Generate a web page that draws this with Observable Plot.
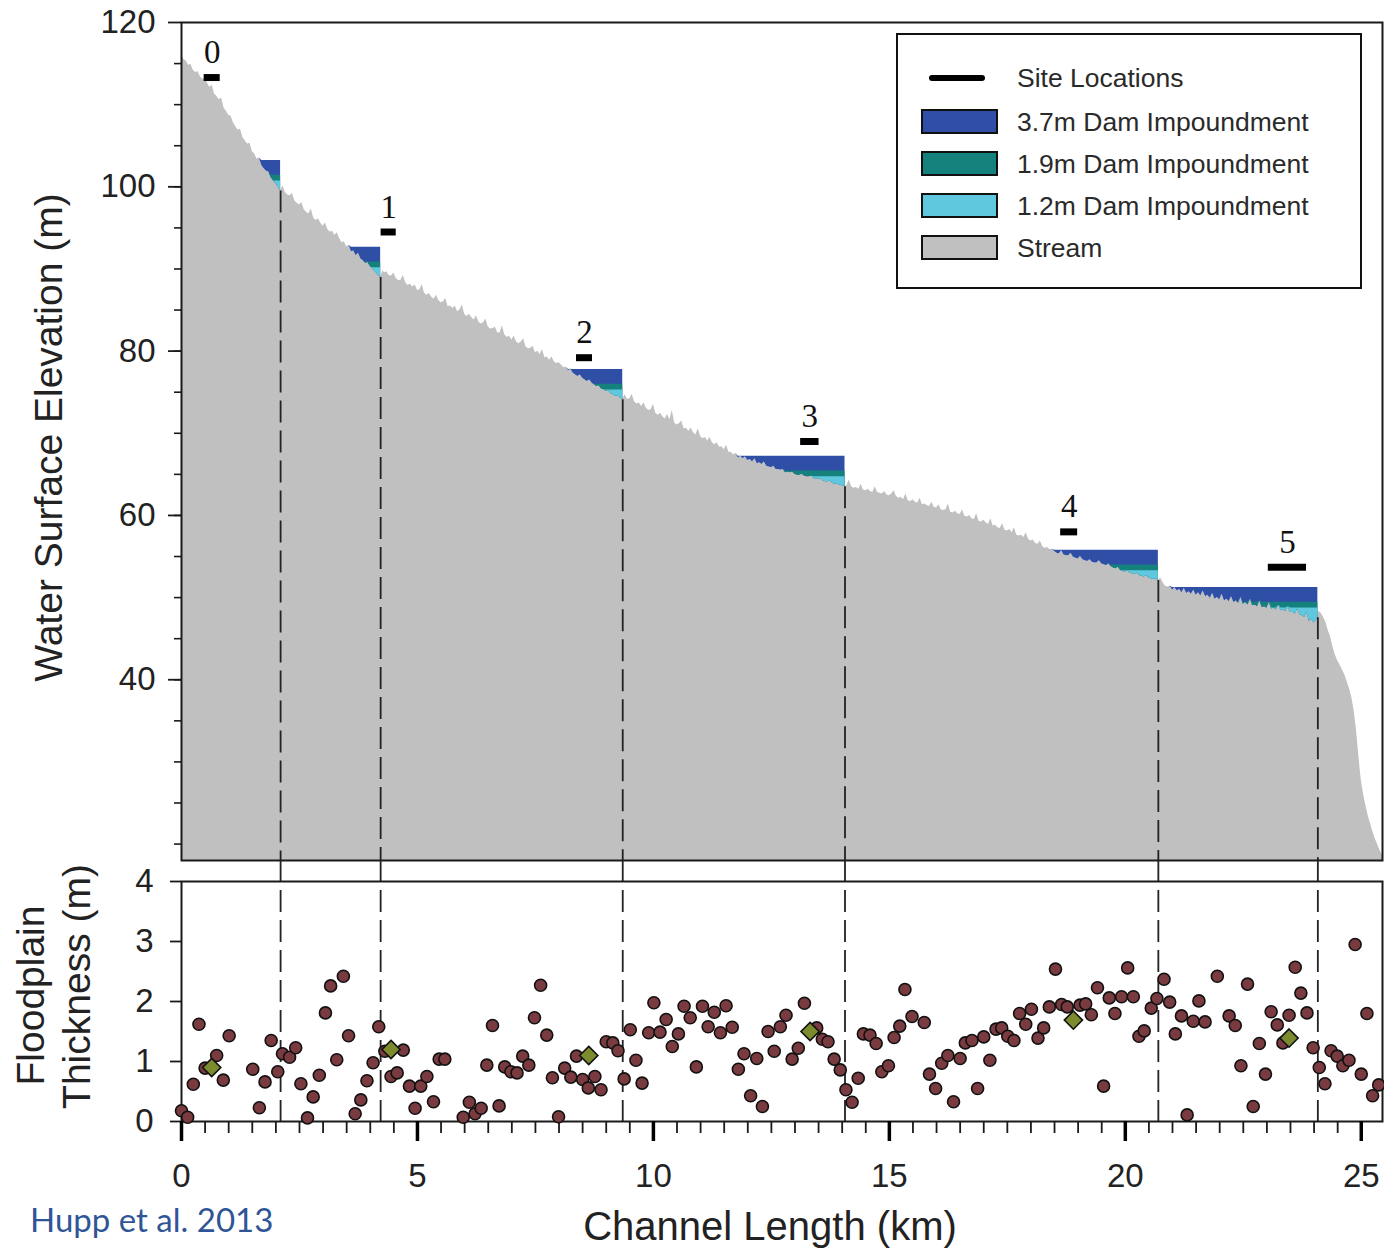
<!DOCTYPE html>
<html>
<head>
<meta charset="utf-8">
<script src="https://cdn.jsdelivr.net/npm/d3@7"></script>
<script src="https://cdn.jsdelivr.net/npm/@observablehq/plot@0.6"></script>
<style>
  html, body { margin: 0; padding: 0; background: #fff; }
  #wrap { position: relative; width: 1384px; height: 1250px; overflow: hidden; font-family: "Liberation Sans", Arial, sans-serif; }
  #topPanel, #bottomPanel { position: absolute; left: 0; }
  #topPanel { top: 0; }
  #bottomPanel { top: 860px; }
  #legend { position: absolute; left: 896px; top: 33px; width: 462px; height: 252px; border: 2.5px solid #111; background: #fff; }
  #legend .sw { position: absolute; left: 23px; width: 73px; height: 21px; border: 2px solid #111; }
  #legend .ln { position: absolute; left: 31px; width: 56px; height: 6px; border-radius: 3px; background: #000; }
  #legend .lb { position: absolute; left: 119px; font-size: 26.5px; color: #2a2a2a; line-height: 30px; white-space: nowrap; }
  #credit { position: absolute; left: 30px; top: 1199px; font-family: Lato, "Open Sans", sans-serif; font-size: 33px; color: #2f5597; }
</style>
</head>
<body>
<div id="wrap">
  <div id="topPanel"></div>
  <div id="bottomPanel"></div>
  <div id="legend"></div>
  <div id="credit">Hupp et al. 2013</div>
</div>
<script>
// ---------- axis settings ----------
const kmDomain = [0, 25.45];
const elevDomain = [18, 120];
const thickDomain = [0, 4];
const elevMajorTicks = [40, 60, 80, 100, 120];
const elevMinorTicks = [20, 25, 30, 35, 40, 45, 50, 55, 60, 65, 70, 75, 80, 85, 90, 95, 100, 105, 110, 115];
const thickTicks = [0, 1, 2, 3, 4];
const kmMajorTicks = [0, 5, 10, 15, 20, 25];
const kmMinorTicks = [0.5, 1, 1.5, 2, 2.5, 3, 3.5, 4, 4.5, 5.5, 6, 6.5, 7, 7.5, 8, 8.5, 9, 9.5,
  10.5, 11, 11.5, 12, 12.5, 13, 13.5, 14, 14.5, 15.5, 16, 16.5, 17, 17.5, 18, 18.5, 19, 19.5,
  20.5, 21, 21.5, 22, 22.5, 23, 23.5, 24, 24.5, 25];

// ---------- stream water-surface profile [km, elevation m] ----------
const streamProfile = [
  [0.0,116.2],[0.05,115.5],[0.1,115.3],[0.15,114.8],[0.2,114.9],[0.25,114.2],[0.3,113.9],[0.35,114.0],[0.4,113.4],[0.45,113.1],
  [0.5,113.2],[0.55,112.6],[0.6,112.1],[0.65,112.4],[0.7,111.3],[0.75,111.0],[0.8,110.6],[0.85,110.8],[0.9,109.6],[0.95,109.2],
  [1.0,108.7],[1.05,108.6],[1.1,107.8],[1.15,107.3],[1.2,106.9],[1.25,107.0],[1.3,106.0],[1.35,105.6],[1.4,105.2],[1.45,105.3],
  [1.5,104.3],[1.55,104.0],[1.6,103.4],[1.65,103.5],[1.7,102.6],[1.75,102.2],[1.8,101.9],[1.85,101.8],[1.9,101.1],[1.95,100.7],
  [2.0,100.4],[2.05,100.0],[2.1,99.5],[2.15,100.1],[2.2,99.3],[2.25,99.0],[2.3,98.9],[2.35,99.2],[2.4,98.3],[2.45,98.0],
  [2.5,97.8],[2.55,98.1],[2.6,97.2],[2.65,96.9],[2.7,96.7],[2.75,97.3],[2.8,96.2],[2.85,95.9],[2.9,96.1],[2.95,95.6],
  [3.0,95.2],[3.05,95.6],[3.1,94.8],[3.15,94.5],[3.2,94.6],[3.25,94.1],[3.3,94.4],[3.35,93.7],[3.4,93.2],[3.45,93.3],
  [3.5,92.6],[3.55,92.9],[3.6,92.1],[3.65,92.2],[3.7,91.6],[3.75,91.9],[3.8,91.2],[3.85,91.0],[3.9,90.7],[3.95,90.8],
  [4.0,90.3],[4.05,90.0],[4.1,89.7],[4.15,89.4],[4.22,88.95],[4.27,89.8],[4.3,89.5],[4.35,89.65],[4.4,89.2],[4.45,89.15],
  [4.5,89.5],[4.55,88.85],[4.6,88.6],[4.65,88.64],[4.7,89.2],[4.75,88.34],[4.8,88.0],[4.85,88.14],[4.9,87.8],[4.95,88.04],
  [5.0,87.4],[5.05,87.43],[5.1,88.1],[5.15,87.03],[5.2,86.8],[5.25,87.0],[5.3,86.6],[5.35,86.3],[5.4,86.8],[5.45,86.2],
  [5.5,85.9],[5.55,86.0],[5.6,86.4],[5.65,85.4],[5.7,85.5],[5.75,85.2],[5.8,85.5],[5.85,84.8],[5.9,85.0],[5.95,85.6],
  [6.0,84.5],[6.05,84.2],[6.1,84.5],[6.15,84.1],[6.2,83.8],[6.25,84.3],[6.3,83.55],[6.35,83.3],[6.4,83.45],[6.45,83.9],
  [6.5,82.95],[6.55,82.7],[6.6,82.75],[6.65,82.9],[6.7,82.25],[6.75,82.2],[6.8,83.1],[6.85,82.0],[6.9,81.65],[6.95,81.8],
  [7.0,81.35],[7.05,81.8],[7.1,81.1],[7.15,80.9],[7.2,81.1],[7.25,81.5],[7.3,80.5],[7.35,80.3],[7.4,80.35],[7.45,80.6],
  [7.5,79.8],[7.55,80.0],[7.6,79.6],[7.65,80.2],[7.7,79.2],[7.75,79.3],[7.8,78.9],[7.85,79.3],[7.9,78.7],[7.95,78.5],
  [8.0,78.6],[8.05,78.3],[8.1,78.0],[8.15,78.05],[8.2,77.6],[8.25,77.8],[8.3,77.3],[8.35,77.1],[8.4,76.9],[8.45,77.1],
  [8.5,76.7],[8.55,76.5],[8.6,76.3],[8.65,76.5],[8.7,76.1],[8.75,75.9],[8.8,75.7],[8.85,75.8],[8.9,75.4],[8.95,75.3],
  [9.0,75.1],[9.05,75.2],[9.1,74.8],[9.15,74.7],[9.2,74.5],[9.25,74.6],[9.3,74.3],[9.35,74.07],[9.4,74.7],[9.45,74.15],
  [9.5,74.2],[9.55,74.75],[9.6,73.8],[9.65,73.55],[9.7,73.7],[9.75,73.25],[9.8,73.7],[9.85,73.05],[9.9,72.8],[9.95,72.85],
  [10.0,73.5],[10.05,72.45],[10.1,72.2],[10.15,72.45],[10.2,72.0],[10.25,71.75],[10.3,72.3],[10.35,71.65],[10.4,72.8],[10.45,71.25],
  [10.5,71.0],[10.55,71.15],[10.6,71.5],[10.65,70.55],[10.7,70.6],[10.75,70.25],[10.8,70.6],[10.85,70.05],[10.9,69.8],[10.95,70.55],
  [11.0,69.6],[11.05,69.35],[11.1,69.5],[11.15,69.05],[11.2,69.5],[11.25,68.85],[11.3,68.6],[11.35,68.85],[11.4,68.3],[11.45,68.35],
  [11.5,68.0],[11.55,68.55],[11.6,67.7],[11.65,67.65],[11.7,67.4],[11.75,67.55],[11.8,67.0],[11.85,67.2],[11.9,66.9],[11.95,67.1],
  [12.0,66.7],[12.05,66.8],[12.1,66.5],[12.15,66.9],[12.2,66.3],[12.25,66.4],[12.3,66.2],[12.35,66.5],[12.4,66.0],[12.45,65.9],
  [12.5,65.8],[12.55,66.0],[12.6,65.6],[12.65,65.6],[12.7,65.5],[12.75,65.6],[12.8,65.2],[12.85,65.3],[12.9,65.2],[12.95,65.3],
  [13.0,65.0],[13.05,64.9],[13.1,64.9],[13.15,65.0],[13.2,64.8],[13.25,64.7],[13.3,64.7],[13.35,64.8],[13.4,64.5],[13.45,64.4],
  [13.5,64.4],[13.55,64.5],[13.6,64.2],[13.65,64.1],[13.7,64.1],[13.75,64.2],[13.8,63.9],[13.85,63.8],[13.9,63.8],[13.95,63.7],
  [14.0,63.6],[14.06,63.5],[14.1,63.6],[14.15,64.3],[14.2,63.5],[14.25,63.3],[14.3,63.4],[14.35,63.2],[14.4,63.8],[14.45,63.1],
  [14.5,63.0],[14.55,63.2],[14.6,62.9],[14.65,62.8],[14.7,63.5],[14.75,62.8],[14.8,62.7],[14.85,62.6],[14.9,62.9],[14.95,62.5],
  [15.0,62.4],[15.05,62.6],[15.1,63.0],[15.15,62.3],[15.2,62.1],[15.25,62.2],[15.3,61.9],[15.35,62.6],[15.4,61.8],[15.45,61.7],
  [15.5,61.9],[15.55,61.6],[15.6,61.5],[15.65,62.1],[15.7,61.3],[15.75,61.4],[15.8,61.2],[15.85,61.1],[15.9,61.6],[15.95,61.0],
  [16.0,60.9],[16.05,61.3],[16.1,60.7],[16.15,60.6],[16.2,60.7],[16.25,61.4],[16.3,60.4],[16.35,60.3],[16.4,60.5],[16.45,60.2],
  [16.5,60.1],[16.55,60.7],[16.6,59.9],[16.65,59.8],[16.7,60.0],[16.75,59.6],[16.8,59.5],[16.85,60.2],[16.9,59.3],[16.95,59.2],
  [17.0,59.4],[17.05,59.1],[17.1,58.9],[17.15,59.6],[17.2,58.7],[17.25,58.8],[17.3,58.5],[17.35,58.4],[17.4,59.0],[17.45,58.2],
  [17.5,58.1],[17.55,58.3],[17.6,57.9],[17.65,58.5],[17.7,57.6],[17.75,57.5],[17.8,57.6],[17.85,57.3],[17.9,57.9],[17.95,57.1],
  [18.0,56.9],[18.05,57.0],[18.1,56.6],[18.15,56.5],[18.2,56.9],[18.25,56.2],[18.3,56.0],[18.35,56.1],[18.4,55.7],[18.45,55.9],
  [18.5,55.6],[18.55,55.4],[18.6,55.3],[18.65,55.7],[18.7,55.2],[18.75,55.1],[18.8,55.1],[18.85,55.4],[18.9,54.9],[18.95,54.8],
  [19.0,54.7],[19.05,55.0],[19.1,54.6],[19.15,54.5],[19.2,54.4],[19.25,54.6],[19.3,54.3],[19.35,54.2],[19.4,54.2],[19.45,54.5],
  [19.5,54.1],[19.55,54.0],[19.6,53.9],[19.65,54.1],[19.7,53.8],[19.75,53.6],[19.8,53.5],[19.85,53.7],[19.9,53.3],[19.95,53.2],
  [20.0,53.1],[20.05,53.3],[20.1,53.0],[20.15,52.9],[20.2,52.8],[20.25,53.0],[20.3,52.7],[20.35,52.6],[20.4,52.5],[20.45,52.7],
  [20.5,52.4],[20.55,52.3],[20.6,52.2],[20.65,52.3],[20.7,52.07],[20.75,52.4],[20.8,51.8],[20.85,51.4],[20.9,51.2],[20.95,51.4],
  [21.0,50.9],[21.05,51.2],[21.1,50.8],[21.15,51.0],[21.2,50.6],[21.25,51.1],[21.3,50.5],[21.35,50.7],[21.4,50.4],[21.45,50.9],
  [21.5,50.3],[21.55,50.6],[21.6,50.2],[21.65,50.8],[21.7,50.1],[21.75,50.3],[21.8,49.9],[21.85,50.5],[21.9,49.8],[21.95,50.0],
  [22.0,49.7],[22.05,50.4],[22.1,49.6],[22.15,49.8],[22.2,49.5],[22.25,50.1],[22.3,49.4],[22.35,49.6],[22.4,49.3],[22.45,50.0],
  [22.5,49.2],[22.55,49.4],[22.6,49.1],[22.65,49.8],[22.7,49.0],[22.75,49.1],[22.8,48.9],[22.85,49.6],[22.9,48.8],[22.95,48.9],
  [23.0,48.7],[23.05,49.4],[23.1,48.6],[23.15,48.7],[23.2,48.5],[23.25,49.1],[23.3,48.4],[23.35,48.5],[23.4,48.3],[23.45,48.9],
  [23.5,48.2],[23.55,48.2],[23.6,48.0],[23.65,48.6],[23.7,47.9],[23.75,47.8],[23.8,47.6],[23.85,48.2],[23.9,47.1],[23.95,47.4],
  [24.0,46.9],[24.05,47.3],[24.08,47.54],[24.1,48.3],[24.15,48.1],[24.2,47.6],[24.25,47.0],[24.3,46.0],[24.35,45.2],[24.4,44.0],
  [24.45,43.0],[24.5,42.3],[24.55,41.8],[24.6,41.2],[24.65,40.6],[24.7,39.8],[24.75,38.9],[24.8,37.8],[24.85,36.2],[24.9,33.8],
  [24.95,30.6],[25.0,27.8],[25.05,26.0],[25.1,24.6],[25.15,23.4],[25.2,22.4],[25.25,21.4],[25.3,20.6],[25.35,19.9],[25.4,19.2],[25.45,18.6]
];

// ---------- dams (position km, stream elevation at dam m) ----------
const damKm = [2.1, 4.22, 9.35, 14.06, 20.7, 24.08];
const damBase = [99.5, 88.95, 74.07, 63.5, 52.07, 47.54];
const damHeights = [3.7, 1.9, 1.2];
const damLabels = ["3.7m Dam Impoundment", "1.9m Dam Impoundment", "1.2m Dam Impoundment"];
const damColors = ["#2f4fa6", "#15817d", "#5fc8de"];
const streamColor = "#c0c0c0";

// ---------- study sites ----------
const siteLabels = ["0", "1", "2", "3", "4", "5"];
const siteKmStart = [0.48, 4.23, 8.37, 13.12, 18.63, 23.03];
const siteKmEnd = [0.82, 4.55, 8.71, 13.51, 18.99, 23.84];
const siteElev = [113.3, 94.5, 79.2, 69.0, 58.0, 53.7];
const siteThickKm = [0.64, 4.44, 8.63, 13.32, 18.9, 23.47];
const siteThickness = [0.90, 1.20, 1.10, 1.50, 1.69, 1.39];

// ---------- floodplain thickness samples [km, m] ----------
const floodplainPoints = [
  [0.00,0.18],[0.13,0.07],[0.25,0.62],[0.37,1.62],[0.50,0.89],[0.745,1.10],[0.886,0.69],[1.01,1.43],[1.51,0.87],[1.65,0.23],
  [1.77,0.66],[1.90,1.35],[2.04,0.83],[2.14,1.13],[2.29,1.07],[2.42,1.23],[2.53,0.63],[2.67,0.06],[2.79,0.41],[2.92,0.77],
  [3.05,1.81],[3.16,2.26],[3.29,1.03],[3.43,2.42],[3.54,1.43],[3.68,0.13],[3.80,0.36],[3.93,0.68],[4.06,0.98],[4.18,1.58],
  [4.31,1.17],[4.44,0.75],[4.57,0.81],[4.70,1.19],[4.83,0.59],[4.95,0.22],[5.07,0.59],[5.20,0.75],[5.34,0.33],[5.46,1.04],
  [5.58,1.04],[5.97,0.07],[6.10,0.32],[6.22,0.13],[6.35,0.22],[6.47,0.94],[6.59,1.60],[6.73,0.26],[6.85,0.91],[6.98,0.83],
  [7.11,0.81],[7.23,1.09],[7.36,0.94],[7.48,1.73],[7.61,2.27],[7.74,1.44],[7.86,0.73],[7.99,0.08],[8.12,0.89],[8.25,0.74],
  [8.37,1.09],[8.50,0.70],[8.62,0.56],[8.76,0.75],[8.89,0.53],[9.00,1.33],[9.14,1.31],[9.25,1.18],[9.38,0.71],[9.51,1.53],
  [9.63,1.02],[9.76,0.64],[9.90,1.48],[10.01,1.98],[10.14,1.49],[10.27,1.70],[10.40,1.25],[10.53,1.46],[10.65,1.92],[10.78,1.73],
  [10.91,0.91],[11.04,1.92],[11.16,1.58],[11.29,1.82],[11.42,1.48],[11.54,1.93],[11.67,1.57],[11.80,0.87],[11.92,1.13],[12.06,0.43],
  [12.19,1.05],[12.31,0.25],[12.43,1.50],[12.56,1.17],[12.69,1.58],[12.81,1.77],[12.94,1.04],[13.07,1.22],[13.20,1.97],[13.46,1.56],
  [13.58,1.37],[13.70,1.33],[13.83,1.04],[13.96,0.86],[14.08,0.53],[14.21,0.32],[14.34,0.72],[14.45,1.46],[14.59,1.44],[14.72,1.30],
  [14.84,0.83],[14.98,0.93],[15.10,1.40],[15.22,1.59],[15.33,2.20],[15.48,1.75],[15.74,1.65],[15.85,0.79],[15.98,0.55],[16.11,0.97],
  [16.24,1.10],[16.36,0.33],[16.50,1.05],[16.61,1.31],[16.75,1.35],[16.87,0.55],[17.00,1.41],[17.13,1.02],[17.26,1.54],[17.38,1.56],
  [17.51,1.42],[17.64,1.35],[17.76,1.80],[17.89,1.62],[18.01,1.87],[18.15,1.39],[18.27,1.56],[18.39,1.91],[18.52,2.54],[18.65,1.95],
  [18.77,1.91],[19.04,1.94],[19.16,1.96],[19.28,1.78],[19.41,2.23],[19.54,0.59],[19.66,2.06],[19.78,1.80],[19.92,2.08],[20.05,2.56],
  [20.17,2.08],[20.29,1.42],[20.40,1.51],[20.55,1.89],[20.67,2.05],[20.82,2.37],[20.94,1.99],[21.06,1.46],[21.19,1.76],[21.31,0.11],
  [21.44,1.67],[21.56,2.01],[21.69,1.66],[21.95,2.42],[22.20,1.76],[22.33,1.60],[22.45,0.93],[22.59,2.29],[22.71,0.25],[22.84,1.30],
  [22.97,0.79],[23.09,1.83],[23.22,1.61],[23.34,1.31],[23.47,1.77],[23.60,2.57],[23.72,2.14],[23.85,1.81],[23.98,1.23],[24.11,0.90],
  [24.23,0.63],[24.36,1.18],[24.49,1.09],[24.61,0.93],[24.74,1.02],[24.87,2.95],[25.00,0.79],[25.12,1.80],[25.24,0.43],[25.37,0.61]
];

// ---------- build tables ----------
const stream = streamProfile.map(([km, elev]) => ({km, elev}));
const dams = damKm.map((km, i) => ({km, base: damBase[i], floor: elevDomain[0]}));
const pondRows = damHeights.map(h => {
  const rows = [];
  dams.forEach((d, i) => {
    const start = i === 0 ? kmDomain[0] : dams[i - 1].km;
    const level = d.base + h;
    stream.filter(s => s.km >= start && s.km <= d.km)
      .forEach(s => rows.push({km: s.km, y1: s.elev, y2: Math.max(s.elev, level), dam: i}));
  });
  return rows;
});
const sites = siteLabels.map((label, i) => ({label, km1: siteKmStart[i], km2: siteKmEnd[i], elev: siteElev[i]}));
const siteThick = siteThickKm.map((km, i) => ({km, t: siteThickness[i]}));
const flood = floodplainPoints.map(([km, t]) => ({km, t}));

const ink = "#1a1a1a";
const dash = "22,8";
const font = "'Liberation Sans', Arial, Helvetica, sans-serif";

// ---------- top panel ----------
const topChart = Plot.plot({
  width: 1384, height: 862,
  marginLeft: 181, marginRight: 2, marginTop: 22, marginBottom: 2,
  x: {domain: kmDomain, axis: null},
  y: {domain: elevDomain, label: null},
  style: {background: "transparent", fontFamily: font, color: ink, overflow: "visible"},
  marks: [
    Plot.areaY(stream, {x: "km", y: "elev", fill: streamColor, clip: true}),
    ...pondRows.map((rows, k) => Plot.areaY(rows, {x: "km", y1: "y1", y2: "y2", z: "dam", fill: damColors[k]})),
    Plot.ruleX(dams, {x: "km", y1: "base", y2: "floor", stroke: "#222", strokeWidth: 1.8, strokeDasharray: dash}),
    Plot.ruleY(sites, {y: "elev", x1: "km1", x2: "km2", stroke: "#000", strokeWidth: 7}),
    Plot.text(sites, {x: d => (d.km1 + d.km2) / 2, y: "elev", text: "label", dy: -25,
      fontFamily: "'Liberation Serif', 'Times New Roman', serif", fontSize: 33, fill: "#111"}),
    Plot.frame({stroke: ink, strokeWidth: 2}),
    Plot.axisY({ticks: elevMinorTicks, tickSize: 7, tickFormat: () => "", label: null, stroke: ink, strokeWidth: 1.6}),
    Plot.axisY({ticks: elevMajorTicks, tickSize: 13, tickPadding: 13, label: null, fontSize: 33, fill: "#222", stroke: ink, strokeWidth: 1.8}),
    Plot.text(["Water Surface Elevation (m)"], {text: d => d, frameAnchor: "left", textAnchor: "middle", lineAnchor: "middle",
      dx: -132, dy: -4, rotate: -90, fontSize: 39, fill: "#222"})
  ]
});
document.getElementById("topPanel").append(topChart);

// ---------- bottom panel ----------
const bottomChart = Plot.plot({
  width: 1384, height: 390,
  marginLeft: 181, marginRight: 2, marginTop: 21, marginBottom: 129,
  x: {domain: kmDomain, label: null},
  y: {domain: thickDomain, label: null},
  style: {background: "transparent", fontFamily: font, color: ink, overflow: "visible"},
  marks: [
    Plot.ruleX(damKm, {x: d => d, insetTop: -21, stroke: "#222", strokeWidth: 1.8, strokeDasharray: dash}),
    Plot.frame({stroke: ink, strokeWidth: 2}),
    Plot.axisY({ticks: thickTicks, tickSize: 11, tickPadding: 17, tickFormat: d => String(d), label: null, fontSize: 33, fill: "#222", stroke: ink, strokeWidth: 1.8}),
    Plot.axisX({ticks: kmMinorTicks, tickSize: 12, tickFormat: () => "", label: null, stroke: ink, strokeWidth: 1.8}),
    Plot.axisX({ticks: kmMajorTicks, tickSize: 20, tickPadding: 22, tickFormat: d => String(d), label: null, fontSize: 33, fill: "#222", stroke: "#000", strokeWidth: 3.5}),
    Plot.dot(flood, {x: "km", y: "t", r: 6, fill: "#7a3b40", stroke: "#111", strokeWidth: 1.6}),
    Plot.dot(siteThick, {x: "km", y: "t", r: 8.2, symbol: d3.symbolDiamond2, fill: "#7d8b2f", stroke: "#111", strokeWidth: 1.6}),
    Plot.text(["Channel Length (km)"], {text: d => d, frameAnchor: "bottom", lineAnchor: "middle", dx: -12, dy: 106, fontSize: 40, fill: "#222"}),
    Plot.text(["Floodplain"], {text: d => d, frameAnchor: "left", textAnchor: "middle", lineAnchor: "middle",
      dx: -150, dy: -6, rotate: -90, fontSize: 39, fill: "#222"}),
    Plot.text(["Thickness (m)"], {text: d => d, frameAnchor: "left", textAnchor: "middle", lineAnchor: "middle",
      dx: -104, dy: -15, rotate: -90, fontSize: 39, fill: "#222"})
  ]
});
document.getElementById("bottomPanel").append(bottomChart);

// ---------- legend ----------
const legend = document.getElementById("legend");
const legendItems = [
  {label: "Site Locations", type: "line", cy: 43},
  {label: damLabels[0], type: "box", color: damColors[0], cy: 86},
  {label: damLabels[1], type: "box", color: damColors[1], cy: 128},
  {label: damLabels[2], type: "box", color: damColors[2], cy: 170},
  {label: "Stream", type: "box", color: streamColor, cy: 212}
];
legendItems.forEach(item => {
  const sym = document.createElement("div");
  if (item.type === "line") {
    sym.className = "ln";
    sym.style.top = (item.cy - 3) + "px";
  } else {
    sym.className = "sw";
    sym.style.top = (item.cy - 12.5) + "px";
    sym.style.background = item.color;
  }
  legend.append(sym);
  const lb = document.createElement("div");
  lb.className = "lb";
  lb.textContent = item.label;
  lb.style.top = (item.cy - 15 + (item.type === "line" ? 0 : 1)) + "px";
  legend.append(lb);
});
</script>
</body>
</html>
